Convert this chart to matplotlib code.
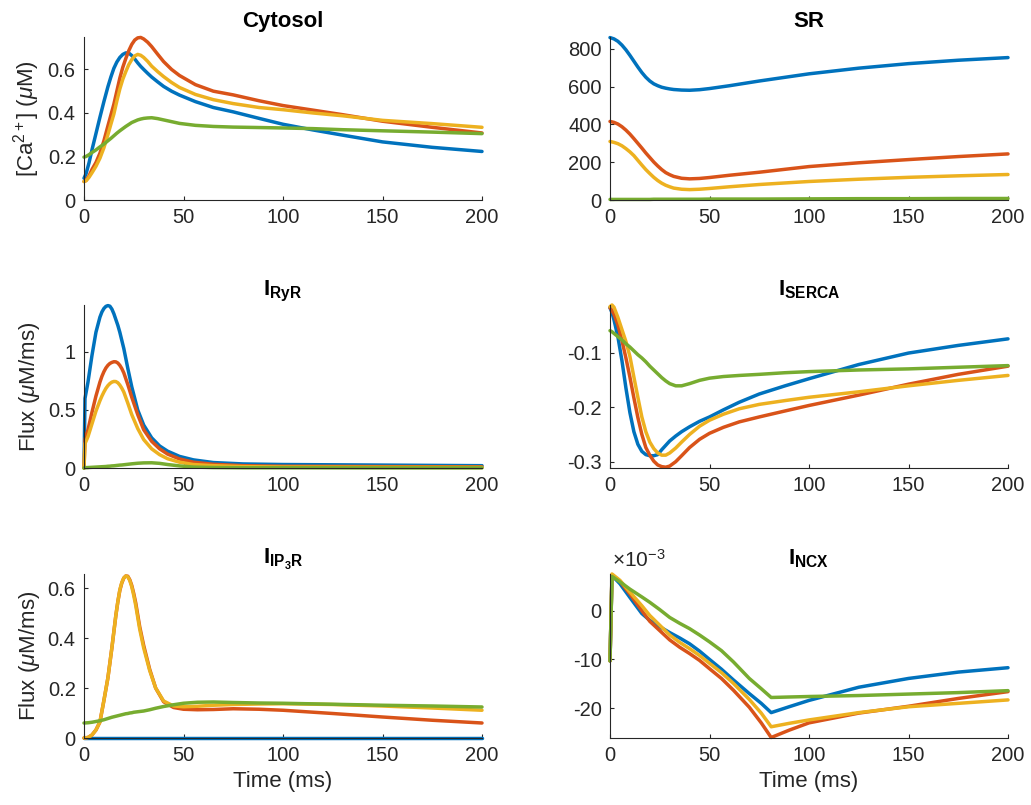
import numpy as np
import matplotlib
matplotlib.use('Agg')
import matplotlib.pyplot as plt
from matplotlib.ticker import FuncFormatter

plt.rcParams['font.family'] = ['Liberation Sans', 'DejaVu Sans']
plt.rcParams['mathtext.fontset'] = 'custom'
plt.rcParams['mathtext.rm'] = 'Liberation Sans'
plt.rcParams['mathtext.it'] = 'Liberation Sans:italic'
plt.rcParams['mathtext.bf'] = 'Liberation Sans:bold'
plt.rcParams['axes.unicode_minus'] = False

# MATLAB default line colours
colors = ['#0072BD', '#D95319', '#EDB120', '#77AC30']

# ---- Cytosol [Ca2+] (uM)
t_cyto = [0, 1, 2.5, 4, 6, 8, 10, 12, 13.5, 15, 16.5, 18, 19.5, 21, 22.5, 24, 25.5, 27, 28.5, 30, 32, 34, 37, 40,
          44, 48, 56, 65, 75, 88, 100, 115, 130, 150, 175, 200]
cyto_blue = [0.10, 0.12, 0.17, 0.23, 0.305, 0.38, 0.452, 0.52, 0.565, 0.605, 0.634, 0.655, 0.669, 0.676, 0.675,
             0.664, 0.648, 0.63, 0.614, 0.60, 0.582, 0.565, 0.543, 0.522, 0.50, 0.482, 0.452,
             0.425, 0.405, 0.375, 0.348, 0.322, 0.298, 0.267, 0.242, 0.223]
cyto_red = [0.085, 0.09, 0.11, 0.14, 0.172, 0.215, 0.272, 0.34, 0.39, 0.44, 0.50, 0.56, 0.61, 0.65, 0.686, 0.715,
            0.735, 0.745, 0.747, 0.74, 0.725, 0.705, 0.67, 0.636, 0.60, 0.572, 0.53,
            0.50, 0.483, 0.456, 0.434, 0.413, 0.392, 0.362, 0.334, 0.308]
cyto_yellow = [0.085, 0.088, 0.104, 0.125, 0.155, 0.192, 0.24, 0.30, 0.348, 0.395, 0.455, 0.51, 0.555, 0.59, 0.622,
               0.645, 0.662, 0.669, 0.665, 0.655, 0.637, 0.615, 0.59, 0.567, 0.54, 0.517,
               0.485, 0.461, 0.443, 0.425, 0.415, 0.40, 0.387, 0.366, 0.351, 0.334]
cyto_green = [0.197, 0.20, 0.208, 0.218, 0.23, 0.244, 0.257, 0.272, 0.283, 0.295, 0.307, 0.318, 0.328, 0.338, 0.347,
              0.356, 0.362, 0.368, 0.372, 0.375, 0.377, 0.378, 0.374, 0.368, 0.36, 0.352,
              0.343, 0.338, 0.335, 0.333, 0.331, 0.328, 0.323, 0.318, 0.312, 0.305]

# ---- SR [Ca2+] (uM)
t_sr = [0, 2, 4, 6, 8, 10, 12, 14, 16, 18, 20, 22, 24, 26, 28, 30, 32, 36, 40, 45, 50, 60, 75, 100, 125, 150, 175, 200]
sr_blue = [860, 853, 840, 820, 795, 766, 735, 704, 675, 650, 630, 615, 605, 597, 592, 588, 585, 582, 581, 584, 590,
           605, 630, 668, 698, 722, 740, 754]
sr_red = [416, 411, 402, 388, 370, 349, 325, 300, 275, 249, 225, 201, 180, 161, 145, 134, 125, 115, 112, 114, 119,
          131, 147, 177, 197, 214, 230, 244]
sr_yellow = [310, 305, 298, 287, 272, 255, 235, 210, 185, 161, 140, 120, 103, 89, 78, 70, 63, 57, 55, 57, 61,
             70, 82, 98, 110, 120, 128, 135]
sr_green = [3, 3, 3, 3, 3, 3, 3, 3, 3, 3, 3, 4, 4, 4, 4, 4, 4, 4, 4, 4, 5, 5, 5, 6, 7, 7, 8, 8]

# ---- I_RyR flux (uM/ms)
t_ryr = [0, 0.5, 2, 4, 6, 8, 9, 10, 11, 12, 13, 14, 15, 16, 17, 18, 19, 20, 22, 24, 27, 30, 34, 38, 42, 48, 55, 65,
         80, 100, 150, 200]
ryr_blue = [0, 0.6, 0.74, 0.97, 1.17, 1.30, 1.345, 1.375, 1.393, 1.40, 1.395, 1.37, 1.33, 1.28, 1.23, 1.17, 1.10,
            1.03, 0.86, 0.70, 0.50, 0.37, 0.26, 0.19, 0.145, 0.10, 0.07, 0.047, 0.035, 0.03, 0.025, 0.02]
ryr_red = [0, 0.25, 0.33, 0.48, 0.62, 0.74, 0.79, 0.83, 0.862, 0.885, 0.901, 0.91, 0.916, 0.915, 0.905, 0.885,
           0.857, 0.82, 0.72, 0.61, 0.46, 0.33, 0.23, 0.165, 0.12, 0.078, 0.05, 0.032, 0.02, 0.015, 0.012, 0.01]
ryr_yellow = [0, 0.21, 0.27, 0.38, 0.49, 0.58, 0.62, 0.655, 0.686, 0.71, 0.728, 0.74, 0.746, 0.745, 0.735, 0.715,
              0.688, 0.655, 0.56, 0.46, 0.34, 0.245, 0.165, 0.115, 0.08, 0.05, 0.03, 0.02, 0.012, 0.008, 0.006, 0.005]
ryr_green = [0, 0.003, 0.004, 0.006, 0.008, 0.01, 0.011, 0.012, 0.013, 0.015, 0.016, 0.018, 0.019, 0.021, 0.023,
             0.025, 0.026, 0.028, 0.032, 0.036, 0.041, 0.044, 0.045, 0.04, 0.03, 0.018, 0.008, 0.004, 0.002, 0.002,
             0.001, 0.001]

# ---- I_SERCA flux (uM/ms)
t_serca = [0, 1, 2, 4, 6, 8, 10, 12, 14, 16, 18, 20, 22, 24, 26, 28, 30, 33, 36, 40, 45, 50, 57, 65, 75, 88,
           100, 125, 150, 175, 200]
serca_blue = [-0.018, -0.027, -0.04, -0.072, -0.115, -0.165, -0.21, -0.245, -0.268, -0.281, -0.287, -0.289,
              -0.289, -0.287, -0.278, -0.27, -0.262, -0.253, -0.245, -0.236, -0.226, -0.218, -0.205, -0.191,
              -0.176, -0.161, -0.148, -0.122, -0.101, -0.087, -0.075]
serca_red = [-0.018, -0.023, -0.03, -0.05, -0.078, -0.11, -0.145, -0.183, -0.219, -0.25, -0.274, -0.288, -0.299,
             -0.306, -0.309, -0.31, -0.308, -0.30, -0.289, -0.274, -0.259, -0.248, -0.237, -0.227, -0.218,
             -0.207, -0.197, -0.178, -0.158, -0.14, -0.125]
serca_yellow = [-0.016, -0.013, -0.017, -0.036, -0.058, -0.08, -0.107, -0.145, -0.182, -0.218, -0.245, -0.264,
                -0.276, -0.284, -0.288, -0.288, -0.284, -0.275, -0.264, -0.25, -0.235, -0.224, -0.213, -0.203,
                -0.195, -0.188, -0.182, -0.172, -0.161, -0.151, -0.142]
serca_green = [-0.06, -0.062, -0.065, -0.071, -0.077, -0.084, -0.09, -0.097, -0.104, -0.11, -0.117, -0.125,
               -0.132, -0.139, -0.146, -0.152, -0.157, -0.161, -0.161, -0.157, -0.151, -0.147, -0.144, -0.142,
               -0.14, -0.137, -0.135, -0.132, -0.13, -0.127, -0.124]

# ---- I_IP3R flux (uM/ms)
t_ip3 = [0, 2, 4, 6, 8, 10, 12, 14, 16, 17, 18, 19, 20, 21, 22, 23, 24, 25, 26, 28, 30, 33, 36, 40, 45, 50, 57, 65,
         75, 88, 100, 125, 150, 175, 200]
ip3_blue = [0] * len(t_ip3)
ip3_red = [0, 0.002, 0.012, 0.032, 0.064, 0.15, 0.24, 0.36, 0.49, 0.545, 0.59, 0.62, 0.64, 0.648, 0.647, 0.633,
           0.61, 0.578, 0.54, 0.445, 0.37, 0.275, 0.2, 0.145, 0.122, 0.115, 0.113, 0.114, 0.117, 0.115, 0.111,
           0.098, 0.084, 0.071, 0.06]
ip3_yellow = [0, 0.002, 0.012, 0.032, 0.064, 0.15, 0.24, 0.36, 0.49, 0.545, 0.593, 0.622, 0.64, 0.648, 0.645,
              0.63, 0.605, 0.57, 0.53, 0.435, 0.36, 0.27, 0.2, 0.148, 0.128, 0.125, 0.127, 0.131, 0.134, 0.136,
              0.137, 0.134, 0.128, 0.12, 0.111]
ip3_green = [0.06, 0.061, 0.063, 0.066, 0.069, 0.073, 0.078, 0.083, 0.087, 0.089, 0.091, 0.093, 0.095, 0.097,
             0.098, 0.10, 0.101, 0.103, 0.104, 0.106, 0.108, 0.113, 0.119, 0.126, 0.133, 0.139, 0.143, 0.144,
             0.142, 0.14, 0.139, 0.135, 0.131, 0.128, 0.124]

# ---- I_NCX flux, values in units of 1e-3 uM/ms
t_ncx = [0, 1, 5, 10, 16, 20, 25, 30, 35, 40, 45, 50, 56, 62, 70, 76, 81, 90, 100, 125, 150, 175, 200]
ncx_blue = [-10.3, 7.2, 5.5, 2.7, -0.6, -2.0, -3.3, -4.5, -5.6, -6.8, -8.3, -10.0, -12.0, -14.2, -17.0, -19.0,
            -20.9, -19.7, -18.4, -15.7, -13.9, -12.6, -11.7]
ncx_red = [-10.3, 7.3, 6.0, 3.4, 0.0, -2.2, -4.1, -6.0, -7.5, -8.8, -10.2, -11.9, -13.9, -16.3, -19.8, -23.0,
           -26.0, -24.5, -23.0, -21.0, -19.6, -18.0, -16.6]
ncx_yellow = [-10.3, 7.5, 6.2, 3.8, 1.0, -1.0, -3.0, -5.0, -6.5, -7.8, -9.2, -10.8, -12.7, -14.9, -18.2, -21.0,
              -23.8, -23.1, -22.4, -20.9, -19.7, -19.0, -18.3]
ncx_green = [-10.3, 7.0, 5.9, 4.4, 2.8, 1.7, 0.2, -1.4, -2.6, -3.7, -5.0, -6.4, -8.2, -10.5, -13.9, -16.0, -17.8,
             -17.7, -17.6, -17.4, -17.1, -16.8, -16.4]

panels = [
    ('Cytosol', t_cyto, [cyto_blue, cyto_red, cyto_yellow, cyto_green], (0, 0.749), [0, 0.2, 0.4, 0.6]),
    ('SR', t_sr, [sr_blue, sr_red, sr_yellow, sr_green], (0, 863), [0, 200, 400, 600, 800]),
    (r'$\mathbf{I_{RyR}}$', t_ryr, [ryr_blue, ryr_red, ryr_yellow, ryr_green], (0, 1.405), [0, 0.5, 1]),
    (r'$\mathbf{I_{SERCA}}$', t_serca, [serca_blue, serca_red, serca_yellow, serca_green], (-0.3115, -0.013),
     [-0.3, -0.2, -0.1]),
    (r'$\mathbf{I_{IP_3R}}$', t_ip3, [ip3_blue, ip3_red, ip3_yellow, ip3_green], (0, 0.656), [0, 0.2, 0.4, 0.6]),
    (r'$\mathbf{I_{NCX}}$', t_ncx, [np.array(s) * 1e-3 for s in [ncx_blue, ncx_red, ncx_yellow, ncx_green]],
     (-26.1e-3, 7.5e-3), [-20e-3, -10e-3, 0]),
]

ylabels = [r'[Ca$^{2+}$] ($\mu$M)', None, r'Flux ($\mu$M/ms)', None, r'Flux ($\mu$M/ms)', None]

fig = plt.figure(figsize=(10.31, 8.05), dpi=100)
W, H = 1031, 805
col_x = [84, 610]
row_y = [(37, 200), (305, 468), (574, 738)]
txt = '#262626'

for i, (title, t, series, ylim, yticks) in enumerate(panels):
    r, c = divmod(i, 2)
    top, bot = row_y[r]
    ax = fig.add_axes([col_x[c] / W, (H - bot) / H, 398 / W, (bot - top) / H])
    for s, col in zip(series, colors):
        ax.plot(t, s, color=col, lw=2.5, clip_on=False, solid_joinstyle='round', solid_capstyle='round')
    ax.set_xlim(0, 200)
    ax.set_ylim(*ylim)
    ax.set_xticks([0, 50, 100, 150, 200])
    ax.set_yticks(yticks)
    ax.spines['top'].set_visible(False)
    ax.spines['right'].set_visible(False)
    for sp in ('left', 'bottom'):
        ax.spines[sp].set_color(txt)
        ax.spines[sp].set_linewidth(0.8)
    ax.tick_params(direction='in', length=3, width=0.8, colors=txt, labelsize=14.5, pad=6)
    if i == 5:
        # tick labels in units of 1e-3, MATLAB-style exponent label at the top of the axis
        ax.yaxis.set_major_formatter(FuncFormatter(lambda v, p: '%g' % round(v * 1e3, 6)))
        ax.text(0.005, 1.02, r'$\times$10$^{\mathregular{-3}}$', transform=ax.transAxes, fontsize=15,
                color=txt, ha='left', va='bottom')
    else:
        ax.yaxis.set_major_formatter(FuncFormatter(lambda v, p: '%g' % v))
    ax.set_title(title, fontsize=16, fontweight='bold', color='black', pad=7)
    if ylabels[i]:
        ax.set_ylabel(ylabels[i], fontsize=16, color=txt)
    if r == 2:
        ax.set_xlabel('Time (ms)', fontsize=16, color=txt)

fig.savefig('out.png', dpi=100)
